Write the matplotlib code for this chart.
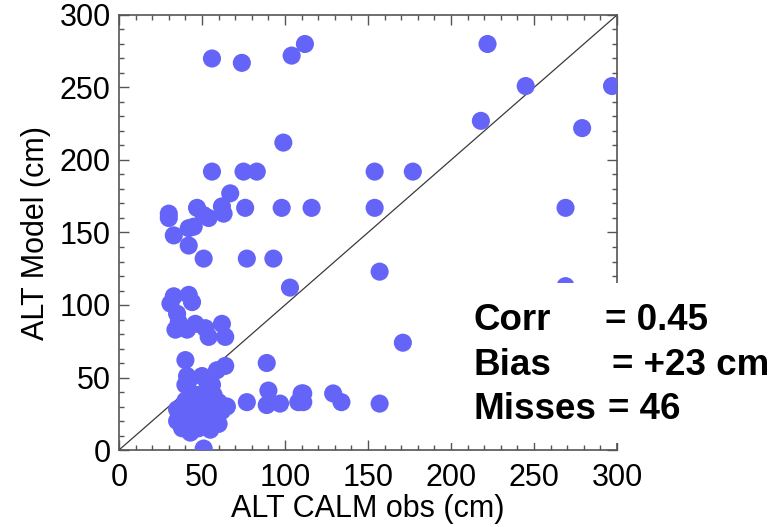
import matplotlib
matplotlib.use("Agg")
import matplotlib.pyplot as plt
from matplotlib.patches import Rectangle
from matplotlib.ticker import MultipleLocator
import numpy as np

plt.rcParams['font.family'] = ['Liberation Sans', 'DejaVu Sans']

# ALT CALM observations (cm)
obs = [56, 74, 104, 112, 222, 245, 297, 218, 279, 99,
       56, 75, 83, 67, 47, 62, 76, 98, 116, 30,
       30, 51, 54, 63, 42, 45, 33, 42, 51, 77,
       93, 103, 154, 177, 154, 269, 157, 269, 171, 111,
       111, 129, 134, 157, 33, 42, 31, 44, 35, 36,
       34, 41, 46, 52, 54, 62, 64, 40, 89, 64,
       59, 41, 50, 40, 55, 90, 110, 77, 89, 97,
       108, 51, 35, 35, 38, 40, 42, 43, 45, 45,
       48, 50, 50, 52, 55, 55, 58, 60, 62, 60,
       47, 40, 57, 65, 42, 53, 56]
# ALT Model (cm)
model = [270, 267, 272, 280, 280, 251, 251, 227, 222, 212,
         192, 192, 192, 177, 167, 168, 167, 167, 167, 163,
         160, 162, 160, 163, 153, 154, 148, 141, 132, 132,
         132, 112, 192, 192, 167, 167, 123, 113, 74, 39,
         33, 39, 33, 32, 106, 107, 101, 102, 94, 88,
         83, 83, 87, 84, 78, 87, 78, 62, 60, 58,
         55, 51, 51, 45, 45, 41, 39, 33, 31, 32,
         33, 1, 28, 20, 15, 25, 18, 12, 30, 22,
         15, 35, 26, 20, 30, 14, 24, 33, 27, 18,
         38, 34, 38, 30, 48, 47, 45]

x_ticks = [0, 50, 100, 150, 200, 250, 300]
y_ticks = [0, 50, 100, 150, 200, 250, 300]
stats_labels = ["Corr", "Bias", "Misses"]
stats_values = ["= 0.45", "= +23 cm", "= 46"]

W, H = 775, 527
fig = plt.figure(figsize=(W / 100, H / 100), dpi=100)
ax = fig.add_axes([119 / W, 1 - 450 / H, (617 - 119) / W, (450 - 15) / H])

ax.plot([0, 300], [0, 300], color='#3a3a3a', lw=0.9, zorder=2)
ax.scatter(obs, model, s=170, color='#6464f8', edgecolors='none', zorder=3)

ax.set_xlim(0, 300)
ax.set_ylim(0, 300)
ax.set_xticks(x_ticks)
ax.set_yticks(y_ticks)
ax.xaxis.set_minor_locator(MultipleLocator(10))
ax.yaxis.set_minor_locator(MultipleLocator(10))
ax.tick_params(which='both', direction='in', top=True, right=True,
               color='#555555', labelsize=22, width=1.0)
ax.tick_params(which='major', length=7)
ax.tick_params(which='minor', length=3.5)
ax.tick_params(axis='x', pad=9)
ax.tick_params(axis='y', pad=6)
for sp in ax.spines.values():
    sp.set_color('#555555')
    sp.set_linewidth(1.2)

ax.set_xlabel("ALT CALM obs (cm)", fontsize=22, labelpad=1)
ax.set_ylabel("ALT Model (cm)", fontsize=22, labelpad=6)

# white box behind the statistics text
fig.add_artist(Rectangle((440 / W, 1 - 443 / H), (W - 440) / W, (443 - 283) / H,
                         transform=fig.transFigure, facecolor='white',
                         edgecolor='none', zorder=5))

base_y = [330, 375, 419]
eq_x = [605, 612, 608]
for lab, val, by, ex in zip(stats_labels, stats_values, base_y, eq_x):
    fig.text(474 / W, 1 - by / H, lab, fontsize=26.5, fontweight='bold',
             va='baseline', ha='left', zorder=6)
    fig.text(ex / W, 1 - by / H, val, fontsize=26.5, fontweight='bold',
             va='baseline', ha='left', zorder=6)

fig.savefig("out.png", dpi=100)
